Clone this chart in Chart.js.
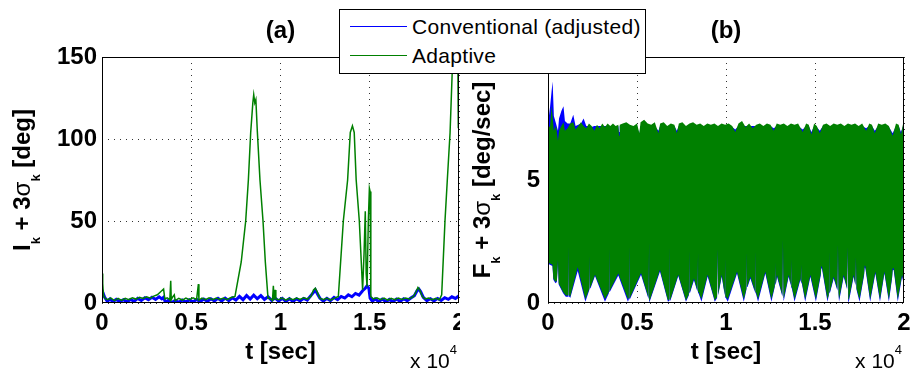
<!DOCTYPE html>
<html>
<head>
<meta charset="utf-8">
<script src="https://cdn.jsdelivr.net/npm/chart.js@4.4.0/dist/chart.umd.min.js"></script>
<style>
html,body{margin:0;padding:0;background:#fff;}
#wrap{position:relative;width:912px;height:373px;overflow:hidden;background:#fff;}
#c1{position:absolute;left:0;top:0;}
#c2{position:absolute;left:460px;top:0;}
#legend{position:absolute;left:339px;top:9px;width:305px;height:63px;border:1px solid #000;background:#fff;
  font-family:'Liberation Sans',Arial,sans-serif;font-size:21px;color:#000;letter-spacing:0.3px;}
#legend .sw{position:absolute;left:10px;width:57px;height:0;border-top:1px solid;}
#legend .lt{position:absolute;left:72px;height:24px;line-height:24px;white-space:nowrap;}
</style>
</head>
<body>
<div id="wrap">
  <canvas id="c1" width="460" height="373"></canvas>
  <canvas id="c2" width="452" height="373"></canvas>
  <div id="legend">
    <div class="sw" style="top:16px;border-color:#0000ff"></div>
    <div class="lt" style="top:5px">Conventional (adjusted)</div>
    <div class="sw" style="top:45px;border-color:#008000"></div>
    <div class="lt" style="top:34px">Adaptive</div>
  </div>
</div>
<script>
// ---------- labels ----------
const seriesNames = ['Conventional (adjusted)', 'Adaptive'];
const panelTitles = ['(a)', '(b)'];
const xTickLabels = ['0', '0.5', '1', '1.5', '2'];
const aYTickLabels = ['0', '50', '100', '150'];
const bYTickLabels = ['0', '5', '10'];

// ---------- panel (a): I_k + 3 sigma_k [deg] ----------
const aAdaptiveT = [0,40,80,150,300,500,700,900,1100,1300,1500,1700,1900,2100,2300,2500,2700,2900,3100,3300,
  3450,3520,3650,3800,3850,3880,3950,4050,4100,4300,4500,4700,4900,5100,5300,5400,5430,5600,5800,6000,
  6200,6400,6600,6800,7000,7200,7450,7800,8050,8200,8330,8450,8500,8560,8620,8700,8850,9020,9150,9300,
  9450,9550,9600,9640,9700,9740,9900,10100,10300,10500,10700,10900,11100,11300,11500,11700,11850,11950,12050,12200,
  12400,12600,12800,13000,13240,13520,13760,13910,14030,14130,14240,14415,14600,14680,14750,14800,14850,14920,14980,15020,
  15060,15200,15400,15600,15800,16000,16200,16400,16600,16800,17000,17200,17450,17600,17700,17800,17950,18100,18300,18500,
  18700,18900,19030,19215,19345,19500,19650,19720,19920,19960,20000];
const aAdaptiveV = [18,12,5,3,2,3,1.5,2.8,1.6,2.9,2.0,3.2,2.4,3.5,2.8,3.8,3.0,4.2,5.0,7.0,
  8.5,2.5,3.2,2.0,13.5,2.0,3.5,5.0,1.5,2.8,1.8,3.0,2.0,3.2,2.2,11.5,1.8,3.0,2.0,3.2,
  2.0,3.0,2.2,3.0,2.0,3.2,4,25,50,75,104,122,127,122,124,105,75,50,25,3,
  2.5,1.5,10.5,2,8,2.5,2.0,3.0,1.8,2.8,2.0,3.0,2.2,3.2,2.4,4.0,8.0,9.0,7.0,3.0,
  2.0,3.0,1.8,2.8,4,50,75,104,108,104,75,50,8,30,56,18,10,50,70,68,
  4,2.5,3.2,2.0,3.0,1.8,2.8,2.0,3.0,2.2,3.0,2.4,4,7,9.5,8,4,2.5,3.0,2.0,
  2.8,2.0,5,50,75,104,150,175,175,107,107];

const aConvT = [0,60,150,300,450,600,800,1000,1200,1400,1600,1800,2000,2200,2400,2600,2800,3000,3200,3350,
  3450,3550,3700,3900,4100,4300,4500,4700,4900,5100,5300,5500,5700,5900,6100,6300,6500,6700,6900,7100,
  7300,7500,7700,7900,8100,8300,8500,8700,8900,9100,9300,9500,9700,9900,10100,10300,10500,10700,10900,11100,
  11300,11500,11700,11850,11950,12050,12200,12400,12600,12800,13000,13200,13400,13600,13800,14000,14200,14400,14600,14750,
  14850,14950,15020,15150,15300,15500,15700,15900,16100,16300,16500,16700,16900,17100,17300,17500,17650,17750,17850,18000,
  18200,18400,18600,18800,19000,19200,19400,19600,19800,20000];
const aConvV = [8,6,3.5,1.0,2.5,0.8,2.2,0.8,2.0,0.7,2.2,1.0,2.8,1.5,3.2,2.0,3.5,2.2,3.8,2.5,
  3.5,0.5,1.5,0.3,1.6,0.4,1.8,0.6,2.0,0.6,2.2,0.8,2.4,1.0,2.6,1.2,2.8,1.2,3.0,1.4,
  3.2,1.8,4.0,2.0,4.6,2.4,4.8,2.6,4.5,2.2,3.8,1.6,3.0,1.2,2.8,1.0,2.6,1.0,2.6,1.2,
  2.8,1.8,4.5,6.5,8.0,6.0,3.0,1.2,2.8,1.4,3.4,2.0,4.0,3.0,5.0,3.8,5.8,4.8,7.5,9.0,
  10.5,9.0,3.0,1.0,2.5,0.8,2.4,0.8,2.2,0.8,2.4,1.0,2.6,1.4,3.0,4.5,7.5,8.5,7.0,3.5,
  1.4,2.6,1.2,2.8,1.6,3.2,2.2,3.8,2.8,4.4];

// ---------- panel (b): F_k + 3 sigma_k [deg/sec] (envelopes of the dense oscillation) ----------
const bUpperT = [0,120,200,260,330,450,560,620,750,870,
  950,1100,1250,1420,1550,1700,1850,2000,2150,2300,
  2450,2600,2750,2900,3050,3200,3350,3500,3650,3800,
  3950,3990,4030,4200,4400,4600,4800,5000,5130,5200,
  5400,5600,5800,6000,6200,6300,6500,6700,6900,7100,
  7240,7350,7550,7750,7950,8150,8350,8550,8750,8950,
  9150,9350,9550,9750,9950,10150,10350,10520,10700,10900,
  11100,11300,11500,11700,11900,12100,12300,12500,12680,12850,
  13050,13250,13450,13650,13850,14050,14310,14500,14650,14800,
  14950,15100,15270,15450,15650,15850,16050,16250,16450,16650,
  16850,17050,17250,17450,17650,17870,18050,18200,18360,18550,
  18750,18950,19150,19365,19550,19700,19830,19950,20000];
const bAdaptiveUpper = [7.1,7.2,8.0,7.6,7.0,7.2,6.6,7.0,7.2,7.35,
  7.0,7.1,7.3,7.35,7.05,7.2,7.35,7.2,7.1,7.3,
  7.2,7.0,7.25,7.1,7.3,7.15,7.3,7.2,7.3,7.2,
  7.25,6.8,7.25,7.3,7.35,7.25,7.2,7.3,6.9,7.35,
  7.45,7.3,7.25,7.35,6.9,7.3,7.35,7.2,7.3,7.25,
  6.9,7.3,7.35,7.2,7.3,7.35,7.25,7.3,7.2,7.3,
  7.25,7.3,7.2,7.3,7.25,7.3,7.2,6.95,7.3,7.4,
  7.15,7.3,7.1,7.25,7.3,7.2,7.3,7.25,7.0,7.3,
  7.25,7.3,7.2,7.3,7.25,7.3,6.95,7.3,7.25,6.85,
  7.3,7.2,6.9,7.25,7.3,7.2,7.3,7.25,7.3,7.2,
  7.3,7.25,7.3,7.2,7.3,7.0,7.3,7.25,6.9,7.3,
  7.25,7.3,7.2,6.8,7.3,7.25,6.85,7.3,7.3];
const bConvUpper = [7.3,8.0,8.6,9.0,7.6,7.3,7.0,7.5,7.8,8.0,
  7.4,7.3,7.3,7.65,7.2,7.25,7.3,7.5,7.2,7.2,
  7.15,7.2,7.2,7.2,7.2,7.2,7.2,7.15,7.2,7.15,
  7.2,6.95,7.2,7.2,7.2,7.2,7.15,7.2,6.85,7.2,
  7.2,7.2,7.15,7.2,7.0,7.2,7.2,7.15,7.2,7.2,
  7.0,7.2,7.2,7.15,7.2,7.2,7.2,7.2,7.15,7.2,
  7.2,7.2,7.15,7.2,7.2,7.2,7.15,7.05,7.2,7.2,
  7.2,7.2,7.2,7.2,7.2,7.15,7.2,7.2,7.1,7.2,
  7.2,7.2,7.15,7.2,7.2,7.2,7.05,7.2,7.2,6.95,
  7.2,7.15,7.0,7.2,7.2,7.15,7.2,7.2,7.2,7.15,
  7.2,7.2,7.2,7.15,7.2,7.1,7.2,7.2,7.0,7.2,
  7.2,7.2,7.15,6.9,7.2,7.2,6.95,7.2,7.2];

const bLowerT = [0,250,300,420,500,560,600,850,1000,1150,
  1180,1210,1250,1670,2100,2330,2360,2390,2640,3200,
  3420,3445,3470,3950,4490,4540,4570,4600,5225,5650,
  5680,5710,6290,6740,6830,6855,6880,7320,7750,7910,
  7940,7970,8200,8400,8430,8460,8620,8970,9370,9500,
  9530,9560,9760,9930,9960,9990,10100,10620,11000,11150,
  11180,11210,11370,11620,11650,11680,11800,12210,12550,12740,
  12770,12800,12865,13170,13200,13230,13250,13520,13640,13670,
  13700,13850,14175,14200,14230,14260,14450,14740,15050,15325,
  15355,15390,15700,15775,15805,15835,16050,16260,16290,16320,
  16350,16610,16805,16835,16865,16900,17170,17270,17300,17330,
  17500,17760,17790,17830,18100,18390,18650,18900,19150,19335,
  19365,19420,19650,19890,20000];
const bAdaptiveLower = [1.65,1.55,1.0,0.85,0.9,1.75,0.8,0.45,0.3,0.3,
  2.35,0.3,0.25,1.45,0.15,0.6,1.95,0.65,1.15,0.15,
  0.45,2.25,0.5,1.2,0.15,0.2,2.33,0.2,1.22,0.2,
  2.52,0.1,1.35,0.1,0.15,2.42,0.15,1.15,0.1,0.35,
  2.15,0.45,1.0,0.5,2.04,0.45,0.15,1.15,0.1,0.25,
  2.22,0.35,1.15,0.35,1.82,0.25,0.15,1.27,0.15,0.6,
  2.09,0.7,1.07,0.5,2.11,0.45,0.15,1.27,0.15,0.7,
  1.65,0.8,1.14,0.3,2.56,0.25,0.2,1.14,0.75,1.79,
  0.65,0.15,1.0,0.92,1.57,0.85,0.15,1.14,0.15,1.2,
  1.5,1.48,0.15,0.35,2.11,0.45,1.07,0.55,2.38,0.45,
  0.15,1.14,0.6,2.28,0.5,0.15,1.14,0.75,1.87,0.6,
  0.15,1.2,1.52,1.48,0.15,1.27,0.15,1.27,0.15,1.1,
  1.41,1.41,0.15,1.14,0.8];
const bConvLower = [1.6,1.5,0.95,0.8,0.85,1.65,0.75,0.4,0.25,0.25,
  2.15,0.25,0.2,1.3,0.05,0.55,1.8,0.6,1.1,0.05,
  0.4,2.15,0.45,1.12,0.05,0.15,2.25,0.15,1.15,0.15,
  2.45,0.05,1.28,0.05,0.1,2.35,0.1,1.1,0.05,0.3,
  2.05,0.4,0.92,0.45,1.95,0.4,0.05,1.08,0.05,0.2,
  2.12,0.3,1.08,0.3,1.72,0.2,0.05,1.2,0.05,0.55,
  1.98,0.65,1.0,0.45,2.0,0.4,0.05,1.2,0.05,0.65,
  1.58,0.75,1.07,0.25,2.45,0.2,0.1,1.07,0.7,1.7,
  0.6,0.05,0.93,0.87,1.5,0.8,0.05,1.07,0.05,1.13,
  1.42,1.4,0.05,0.3,2.0,0.4,1.0,0.5,2.28,0.4,
  0.05,1.07,0.55,2.18,0.45,0.05,1.07,0.7,1.78,0.55,
  0.05,1.13,1.44,1.4,0.05,1.2,0.05,1.2,0.05,1.04,
  1.33,1.34,0.05,1.07,0.75];

// ---------- styling ----------
const FONT = "'Liberation Sans', Arial, Helvetica, sans-serif";
const BLUE = '#0000ff';
const GREEN = '#008000';

function pts(t, v) { return t.map((x, i) => ({ x: x, y: v[i] })); }

const boxPlugin = {
  id: 'box',
  afterDatasetsDraw(chart) {
    const a = chart.chartArea, ctx = chart.ctx;
    ctx.save();
    ctx.strokeStyle = '#000';
    ctx.lineWidth = 1;
    ctx.setLineDash([]);
    const l = Math.round(a.left) + 0.5, t = Math.round(a.top) + 0.5;
    const r = Math.round(a.right) - 0.5, b = Math.round(a.bottom) - 0.5;
    ctx.strokeRect(l, t, r - l, b - t);
    ctx.restore();
  }
};

function makeTextPlugin(yTitleSegs) {
  return {
    id: 'texts',
    afterDraw(chart) {
      const ctx = chart.ctx, a = chart.chartArea;
      // rotated y-axis title with subscripts
      ctx.save();
      ctx.translate(30, (a.top + a.bottom) / 2);
      ctx.rotate(-Math.PI / 2);
      ctx.fillStyle = '#000';
      ctx.textBaseline = 'alphabetic';
      let total = 0;
      yTitleSegs.forEach(s => { ctx.font = s.font; s.w = ctx.measureText(s.text).width; total += s.w; });
      let cx = -total / 2;
      yTitleSegs.forEach(s => { ctx.font = s.font; ctx.fillText(s.text, cx, s.dy || 0); cx += s.w; });
      ctx.restore();
      // x 10^4 multiplier
      ctx.save();
      ctx.fillStyle = '#000';
      ctx.textBaseline = 'alphabetic';
      ctx.font = '13px ' + FONT;
      const w4 = ctx.measureText('4').width;
      ctx.font = '21px ' + FONT;
      const wx = ctx.measureText('x 10').width;
      const endX = a.right - 2;
      ctx.fillText('x 10', endX - w4 - wx, 368);
      ctx.font = '13px ' + FONT;
      ctx.fillText('4', endX - w4, 354);
      ctx.restore();
    }
  };
}

function ySegs(letter, unit) {
  return [
    { text: letter, font: 'bold 24px ' + FONT },
    { text: 'k', font: 'bold 13px ' + FONT, dy: 10 },
    { text: ' + 3', font: 'bold 24px ' + FONT },
    { text: 'σ', font: '24px ' + FONT },
    { text: 'k', font: 'bold 13px ' + FONT, dy: 10 },
    { text: ' [' + unit + ']', font: 'bold 24px ' + FONT }
  ];
}

function baseOptions(title, yMax, yStep, yLabels, yWidth, yPad, padRight) {
  return {
    responsive: false,
    animation: false,
    devicePixelRatio: 1,
    events: [],
    layout: { autoPadding: false, padding: { top: 4, left: 0, right: padRight, bottom: 0 } },
    plugins: {
      legend: { display: false },
      tooltip: { enabled: false },
      title: {
        display: true, text: title, fullSize: false, color: '#000',
        font: { family: FONT, size: 24, weight: 'bold', lineHeight: 1.2 },
        padding: { top: 12.5, bottom: 11.7 }
      }
    },
    elements: { point: { radius: 0 }, line: { tension: 0 } },
    scales: {
      x: {
        type: 'linear', min: 0, max: 20000,
        afterFit: s => { s.height = 70; s.paddingLeft = 0; s.paddingRight = 0; },
        ticks: {
          stepSize: 5000, autoSkip: false, maxRotation: 0, padding: 6, color: '#000',
          font: { family: FONT, size: 24, weight: 'bold' },
          callback: (v, i) => xTickLabels[i]
        },
        grid: { color: '#333', lineWidth: 1, drawTicks: false },
        border: { display: false, dash: [1, 5] },
        title: {
          display: true, text: 't [sec]', color: '#000',
          font: { family: FONT, size: 24, weight: 'bold', lineHeight: 1.2 },
          padding: { top: 0, bottom: 6 }
        }
      },
      y: {
        type: 'linear', min: 0, max: yMax,
        afterFit: s => { s.width = yWidth; s.paddingTop = 0; s.paddingBottom = 0; },
        ticks: {
          stepSize: yStep, autoSkip: false, padding: yPad, color: '#000',
          font: { family: FONT, size: 24, weight: 'bold' },
          callback: (v, i) => yLabels[i]
        },
        grid: { color: '#333', lineWidth: 1, drawTicks: false },
        border: { display: false, dash: [1, 5] }
      }
    }
  };
}

// ---------- chart (a) ----------
new Chart(document.getElementById('c1'), {
  type: 'line',
  data: {
    datasets: [
      { label: seriesNames[1], data: pts(aAdaptiveT, aAdaptiveV), borderColor: GREEN, borderWidth: 1.5, fill: false },
      { label: seriesNames[0], data: pts(aConvT, aConvV), borderColor: BLUE, borderWidth: 3, fill: false }
    ]
  },
  options: baseOptions(panelTitles[0], 150, 50, aYTickLabels, 102, 5, 1),
  plugins: [boxPlugin, makeTextPlugin(ySegs('I', 'deg'))]
});

// ---------- chart (b) ----------
const clear = 'rgba(0,0,0,0)';
new Chart(document.getElementById('c2'), {
  type: 'line',
  data: {
    datasets: [
      { label: seriesNames[1], data: pts(bUpperT, bAdaptiveUpper), borderColor: clear, borderWidth: 1,
        backgroundColor: GREEN, fill: { target: '+1', above: GREEN, below: GREEN } },
      { label: seriesNames[1] + ' lower', data: pts(bLowerT, bAdaptiveLower), borderColor: clear, borderWidth: 1, fill: false },
      { label: seriesNames[0], data: pts(bUpperT, bConvUpper), borderColor: clear, borderWidth: 1,
        backgroundColor: BLUE, fill: { target: '+1', above: BLUE, below: BLUE } },
      { label: seriesNames[0] + ' lower', data: pts(bLowerT, bConvLower), borderColor: clear, borderWidth: 1, fill: false }
    ]
  },
  options: baseOptions(panelTitles[1], 10, 5, bYTickLabels, 88, 8, 8),
  plugins: [boxPlugin, makeTextPlugin(ySegs('F', 'deg/sec'))]
});
</script>
</body>
</html>
